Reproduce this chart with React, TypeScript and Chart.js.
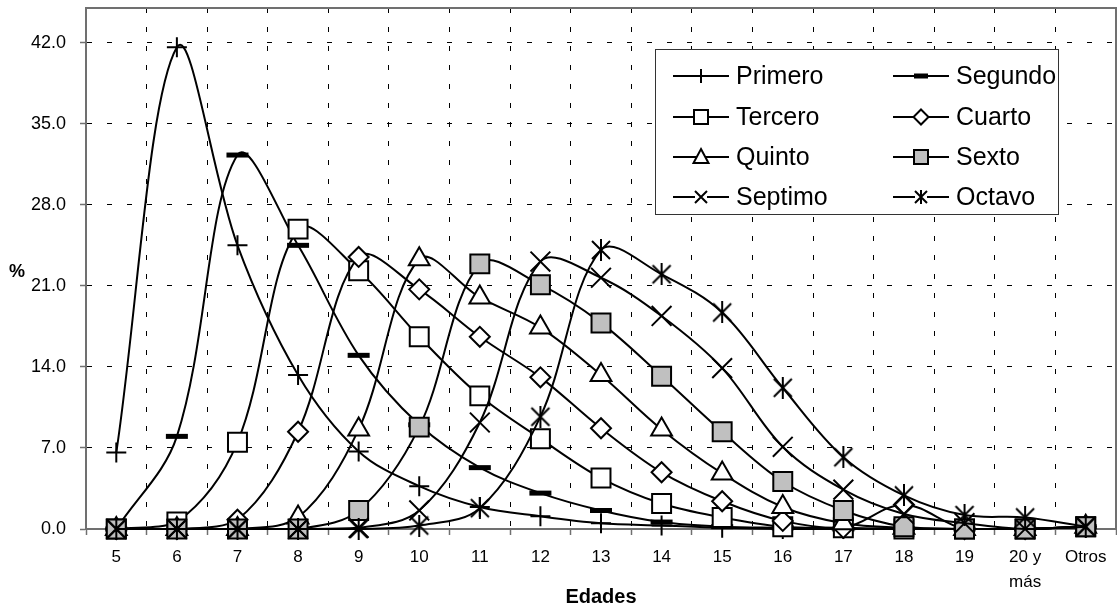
import React, { useEffect, useRef } from 'react';
import { Chart, registerables } from 'chart.js';

Chart.register(...registerables);

const ageLabels: (string | string[])[] = ['5', '6', '7', '8', '9', '10', '11', '12', '13', '14', '15', '16', '17', '18', '19', ['20 y', 'más'], 'Otros'];
const seriesNames = ['Primero', 'Segundo', 'Tercero', 'Cuarto', 'Quinto', 'Sexto', 'Septimo', 'Octavo'];
const yTickValues = [0, 7, 14, 21, 28, 35, 42];

const primero = [6.6, 41.6, 24.5, 13.3, 6.7, 3.7, 1.9, 1.1, 0.5, 0.3, 0.1, 0, 0, 0, 0, 0, 0.2];
const segundo = [0, 8.0, 32.3, 24.5, 15.0, 9.0, 5.3, 3.1, 1.6, 0.6, 0.2, 0.1, 0, 0, 0, 0, 0.2];
const tercero = [0, 0.6, 7.5, 25.9, 22.3, 16.6, 11.5, 7.8, 4.4, 2.2, 1.0, 0.2, 0.1, 0, 0, 0, 0.2];
const cuarto = [0, 0, 0.8, 8.4, 23.5, 20.7, 16.6, 13.1, 8.7, 4.9, 2.4, 0.7, 0.1, 2.1, 0, 0, 0.2];
const quinto = [0, 0, 0, 1.0, 8.6, 23.3, 20.0, 17.4, 13.3, 8.6, 4.8, 1.9, 0.5, 0.1, 0, 0, 0.2];
const sexto = [0, 0, 0, 0, 1.6, 8.8, 22.9, 21.1, 17.8, 13.2, 8.4, 4.1, 1.6, 0.2, 0, 0, 0.2];
const septimo = [0, 0, 0, 0, 0.1, 1.6, 9.2, 23.1, 21.7, 18.4, 13.9, 7.1, 3.4, 1.3, 0.5, 0, 0.2];
const octavo = [0, 0, 0, 0, 0, 0.3, 1.8, 9.7, 24.1, 22.0, 18.7, 12.2, 6.2, 2.9, 1.2, 1.0, 0.2];

const FONT = "'Liberation Sans', Arial, sans-serif";
const AXIS_GRAY = '#707070';

function makeAsterisk(size: number): HTMLCanvasElement {
  const c = document.createElement('canvas');
  c.width = size;
  c.height = size;
  const g = c.getContext('2d')!;
  g.strokeStyle = '#000';
  g.lineWidth = 2;
  const m = size / 2;
  const a = size / 2 - 2;
  g.beginPath();
  g.moveTo(m - a, m - a);
  g.lineTo(m + a, m + a);
  g.moveTo(m + a, m - a);
  g.lineTo(m - a, m + a);
  g.moveTo(m, 0);
  g.lineTo(m, size);
  g.stroke();
  return c;
}

type Kind = 'plus' | 'bar' | 'square' | 'diamond' | 'triangle' | 'gray' | 'x' | 'asterisk';
const legendKinds: Kind[] = ['plus', 'bar', 'square', 'diamond', 'triangle', 'gray', 'x', 'asterisk'];

function drawLegendMarker(ctx: CanvasRenderingContext2D, kind: Kind, x: number, y: number) {
  ctx.save();
  ctx.strokeStyle = '#000';
  ctx.fillStyle = '#fff';
  ctx.lineWidth = 2;
  ctx.beginPath();
  switch (kind) {
    case 'plus':
      ctx.moveTo(x, y - 7); ctx.lineTo(x, y + 7);
      ctx.stroke();
      break;
    case 'bar':
      ctx.lineWidth = 5;
      ctx.moveTo(x - 7, y); ctx.lineTo(x + 7, y);
      ctx.stroke();
      break;
    case 'square':
    case 'gray':
      if (kind === 'gray') ctx.fillStyle = '#c0c0c0';
      ctx.rect(x - 7, y - 7, 14, 14);
      ctx.fill(); ctx.stroke();
      break;
    case 'diamond':
      ctx.moveTo(x, y - 7.5); ctx.lineTo(x + 7.5, y); ctx.lineTo(x, y + 7.5); ctx.lineTo(x - 7.5, y); ctx.closePath();
      ctx.fill(); ctx.stroke();
      break;
    case 'triangle':
      ctx.moveTo(x, y - 8); ctx.lineTo(x + 7.5, y + 6); ctx.lineTo(x - 7.5, y + 6); ctx.closePath();
      ctx.fill(); ctx.stroke();
      break;
    case 'x':
      ctx.fillRect(x - 6, y - 2, 12, 4);
      ctx.moveTo(x - 6, y - 6); ctx.lineTo(x + 6, y + 6);
      ctx.moveTo(x + 6, y - 6); ctx.lineTo(x - 6, y + 6);
      ctx.stroke();
      break;
    case 'asterisk':
      ctx.fillRect(x - 6, y - 2, 12, 4);
      ctx.moveTo(x - 6, y - 6); ctx.lineTo(x + 6, y + 6);
      ctx.moveTo(x + 6, y - 6); ctx.lineTo(x - 6, y + 6);
      ctx.moveTo(x, y - 7); ctx.lineTo(x, y + 7);
      ctx.stroke();
      break;
  }
  ctx.restore();
}

const overlayPlugin = {
  id: 'overlay',
  beforeDatasetsDraw(chart: any) {
    const { ctx, chartArea } = chart;
    ctx.save();
    ctx.strokeStyle = AXIS_GRAY;
    ctx.lineWidth = 2;
    ctx.beginPath();
    ctx.moveTo(chartArea.left, chartArea.top);
    ctx.lineTo(chartArea.right, chartArea.top);
    ctx.lineTo(chartArea.right, chartArea.bottom);
    ctx.stroke();
    ctx.restore();
  },
  afterDraw(chart: any) {
    const { ctx } = chart;
    ctx.save();
    ctx.font = `bold 18px ${FONT}`;
    ctx.fillStyle = '#000';
    ctx.textAlign = 'center';
    ctx.textBaseline = 'middle';
    ctx.fillText('%', 17, 272);

    ctx.fillStyle = '#fff';
    ctx.fillRect(655, 49, 403, 165);
    ctx.strokeStyle = '#333';
    ctx.lineWidth = 1;
    ctx.strokeRect(655.5, 49.5, 403, 165);

    const rows = [76, 117, 157, 197];
    const cols = [673, 893];
    ctx.font = `25px ${FONT}`;
    ctx.textAlign = 'left';
    seriesNames.forEach((name, i) => {
      const r = Math.floor(i / 2);
      const c = i % 2;
      const x0 = cols[c];
      const y = rows[r];
      ctx.strokeStyle = '#000';
      ctx.lineWidth = 2;
      ctx.beginPath();
      ctx.moveTo(x0, y);
      ctx.lineTo(x0 + 56, y);
      ctx.stroke();
      drawLegendMarker(ctx, legendKinds[i], x0 + 28, y);
      ctx.fillStyle = '#000';
      ctx.fillText(name, x0 + 63, y + 1);
    });
    ctx.restore();
  },
};

export default function App() {
  const ref = useRef<HTMLCanvasElement>(null);

  useEffect(() => {
    const asterisk = makeAsterisk(22);
    const styles: any[] = ['cross', 'line', 'rect', 'rectRot', 'triangle', 'rect', 'crossRot', asterisk];
    const radii = [10, 11, 13.4, 10, 12, 13.4, 14, 11];
    const fills = ['#fff', '#000', '#fff', '#fff', '#fff', '#c0c0c0', '#fff', '#fff'];
    const pbw = [2, 5, 2, 2, 2, 2, 2, 2];
    const all = [primero, segundo, tercero, cuarto, quinto, sexto, septimo, octavo];

    const datasets = all.map((d, i) => ({
      label: seriesNames[i],
      data: d,
      borderColor: '#000',
      borderWidth: 2,
      backgroundColor: fills[i],
      pointStyle: styles[i],
      pointRadius: radii[i],
      pointHoverRadius: radii[i],
      pointBackgroundColor: fills[i],
      pointBorderColor: '#000',
      pointBorderWidth: pbw[i],
      tension: 0.35,
      fill: false,
      clip: false as any,
      order: 8 - i,
    }));

    const chart = new Chart(ref.current!, {
      type: 'line',
      data: { labels: ageLabels as any, datasets },
      options: {
        animation: false,
        responsive: true,
        maintainAspectRatio: false,
        events: [],
        layout: { autoPadding: false, padding: { left: 0, right: 1, top: 8, bottom: 0 } },
        plugins: { legend: { display: false }, tooltip: { enabled: false } },
        scales: {
          x: {
            type: 'category',
            offset: true,
            grid: {
              offset: true,
              color: '#000',
              lineWidth: 1,
              tickLength: 6,
              tickColor: AXIS_GRAY,
              tickWidth: 1.5,
            },
            border: { display: true, color: AXIS_GRAY, width: 2, dash: [5, 14] },
            ticks: {
              color: '#000',
              font: { family: FONT, size: 17, lineHeight: 1.45 },
              padding: 10,
              maxRotation: 0,
              autoSkip: false,
            },
            title: {
              display: true,
              text: 'Edades',
              color: '#000',
              font: { family: FONT, size: 20, weight: 'bold' },
              padding: { top: 0, bottom: 2 },
            },
            afterFit: (s: any) => {
              s.height = 82;
              s.paddingLeft = 0;
              s.paddingRight = 0;
            },
          },
          y: {
            min: 0,
            max: 45,
            grid: {
              color: '#000',
              lineWidth: 1,
              tickLength: 6,
              tickColor: AXIS_GRAY,
              tickWidth: 1.5,
            },
            border: { display: true, color: AXIS_GRAY, width: 2, dash: [5, 15] },
            afterBuildTicks: (s: any) => {
              s.ticks = yTickValues.map((v) => ({ value: v }));
            },
            ticks: {
              color: '#000',
              font: { family: FONT, size: 18 },
              padding: 14,
              callback: (v: any) => Number(v).toFixed(1),
            },
            afterFit: (s: any) => {
              s.width = 86;
              s.paddingTop = 0;
              s.paddingBottom = 0;
            },
          },
        },
      },
      plugins: [overlayPlugin],
    });
    return () => chart.destroy();
  }, []);

  return (
    <div style={{ position: 'fixed', left: 0, top: 0, width: 1117, height: 611, background: '#fff' }}>
      <canvas ref={ref} />
    </div>
  );
}
